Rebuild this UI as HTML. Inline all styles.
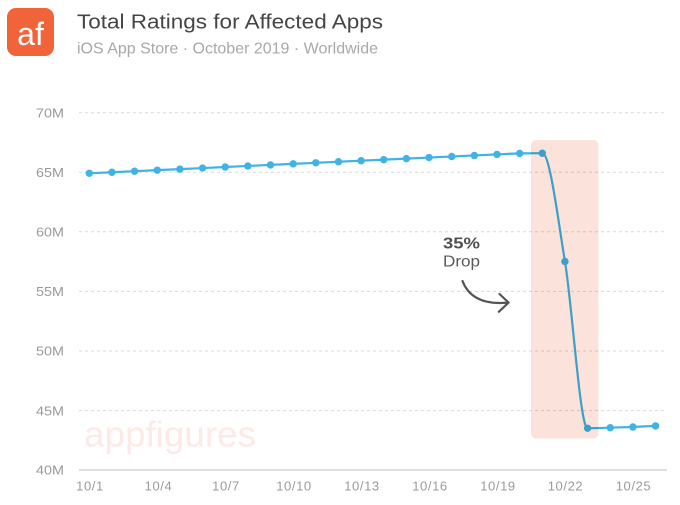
<!DOCTYPE html>
<html>
<head>
<meta charset="utf-8">
<style>
  html, body { margin: 0; padding: 0; background: #ffffff; }
  body { width: 680px; height: 505px; overflow: hidden; }
  svg { display: block; font-family: "Liberation Sans", "DejaVu Sans", sans-serif; }
</style>
</head>
<body>
<svg width="680" height="505" viewBox="0 0 680 505" xmlns="http://www.w3.org/2000/svg">
  <rect x="0" y="0" width="680" height="505" fill="#ffffff"/>

  <!-- Logo -->
  <rect x="7" y="8" width="47" height="48" rx="9" ry="9" fill="#f1643a"/>
  <text x="30.5" y="45" text-anchor="middle" font-size="32" fill="#ffffff">af</text>

  <!-- Titles -->
  <text x="77" y="28.3" font-size="20" fill="#454545" textLength="306" lengthAdjust="spacingAndGlyphs">Total Ratings for Affected Apps</text>
  <text x="77" y="53.3" font-size="16" fill="#a8a8a8" textLength="301" lengthAdjust="spacingAndGlyphs">iOS App Store · October 2019 · Worldwide</text>

  <!-- Watermark -->
  <text x="84" y="446.7" font-size="36" fill="#fde9e6" textLength="172" lengthAdjust="spacingAndGlyphs">appfigures</text>

  <!-- Gridlines -->
  <g stroke="#d9d9d9" stroke-width="1" stroke-dasharray="3 3" fill="none">
    <line x1="79" y1="112.7" x2="667" y2="112.7"/>
    <line x1="79" y1="172.3" x2="667" y2="172.3"/>
    <line x1="79" y1="231.8" x2="667" y2="231.8"/>
    <line x1="79" y1="291.4" x2="667" y2="291.4"/>
    <line x1="79" y1="351.0" x2="667" y2="351.0"/>
    <line x1="79" y1="410.6" x2="667" y2="410.6"/>
  </g>
  <line x1="79" y1="470" x2="667" y2="470" stroke="#cccccc" stroke-width="1.2"/>

  <!-- Y labels -->
  <g font-size="12.5" fill="#9a9a9a">
    <text x="36" y="117.4" textLength="28" lengthAdjust="spacingAndGlyphs">70M</text>
    <text x="36" y="177.0" textLength="28" lengthAdjust="spacingAndGlyphs">65M</text>
    <text x="36" y="236.5" textLength="28" lengthAdjust="spacingAndGlyphs">60M</text>
    <text x="36" y="296.1" textLength="28" lengthAdjust="spacingAndGlyphs">55M</text>
    <text x="36" y="355.7" textLength="28" lengthAdjust="spacingAndGlyphs">50M</text>
    <text x="36" y="415.3" textLength="28" lengthAdjust="spacingAndGlyphs">45M</text>
    <text x="36" y="474.7" textLength="28" lengthAdjust="spacingAndGlyphs">40M</text>
  </g>

  <!-- X labels -->
  <g font-size="13" fill="#9a9a9a" text-anchor="middle" letter-spacing="0.6">
    <text x="90" y="490.7">10/1</text>
    <text x="158.5" y="490.7">10/4</text>
    <text x="226" y="490.7">10/7</text>
    <text x="294" y="490.7">10/10</text>
    <text x="362" y="490.7">10/13</text>
    <text x="430" y="490.7">10/16</text>
    <text x="498" y="490.7">10/19</text>
    <text x="565.5" y="490.7">10/22</text>
    <text x="633.5" y="490.7">10/25</text>
  </g>

  <!-- Series line -->
  <path fill="none" stroke="#3fb3e6" stroke-width="2.2" stroke-linejoin="round" stroke-linecap="round"
    d="M89.3,173.3 L111.95,172.25 L134.6,171.2 L157.25,170.15 L179.9,169.1 L202.55,168.05 L225.2,167.0 L247.85,165.95 L270.5,164.9 L293.15,163.85 L315.8,162.8 L338.45,161.75 L361.1,160.7 L383.75,159.65 L406.4,158.6 L429.05,157.55 L451.7,156.5 L474.35,155.45 L497.0,154.4 L519.65,153.35 L542.3,153.2 C549.85,153.2 557.4,215.7 564.95,261.5 C572.5,307.3 580.05,428.3 587.6,428.3 L610.25,427.7 L632.9,427.0 L655.55,425.9"/>

  <!-- Markers -->
  <g fill="#3fb3e6">
    <circle cx="89.3" cy="173.3" r="3.7"/>
    <circle cx="111.95" cy="172.25" r="3.7"/>
    <circle cx="134.6" cy="171.2" r="3.7"/>
    <circle cx="157.25" cy="170.15" r="3.7"/>
    <circle cx="179.9" cy="169.1" r="3.7"/>
    <circle cx="202.55" cy="168.05" r="3.7"/>
    <circle cx="225.2" cy="167.0" r="3.7"/>
    <circle cx="247.85" cy="165.95" r="3.7"/>
    <circle cx="270.5" cy="164.9" r="3.7"/>
    <circle cx="293.15" cy="163.85" r="3.7"/>
    <circle cx="315.8" cy="162.8" r="3.7"/>
    <circle cx="338.45" cy="161.75" r="3.7"/>
    <circle cx="361.1" cy="160.7" r="3.7"/>
    <circle cx="383.75" cy="159.65" r="3.7"/>
    <circle cx="406.4" cy="158.6" r="3.7"/>
    <circle cx="429.05" cy="157.55" r="3.7"/>
    <circle cx="451.7" cy="156.5" r="3.7"/>
    <circle cx="474.35" cy="155.45" r="3.7"/>
    <circle cx="497.0" cy="154.4" r="3.7"/>
    <circle cx="519.65" cy="153.35" r="3.7"/>
    <circle cx="542.3" cy="153.2" r="3.7"/>
    <circle cx="564.95" cy="261.5" r="3.7"/>
    <circle cx="587.6" cy="428.3" r="3.7"/>
    <circle cx="610.25" cy="427.7" r="3.7"/>
    <circle cx="632.9" cy="427.0" r="3.7"/>
    <circle cx="655.55" cy="425.9" r="3.7"/>
  </g>

  <!-- Highlight band (multiplied over line) -->
  <rect x="531" y="140" width="67.5" height="298.5" rx="5" ry="5" fill="#fbe3dc" style="mix-blend-mode:multiply"/>

  <!-- Annotation -->
  <text x="443" y="248.3" font-size="15.5" font-weight="bold" fill="#505050" textLength="37" lengthAdjust="spacingAndGlyphs">35%</text>
  <text x="443" y="266.7" font-size="15.5" fill="#5a5a5a" textLength="37" lengthAdjust="spacingAndGlyphs">Drop</text>
  <path d="M462.5,281 Q472,306 508,302.6" fill="none" stroke="#555555" stroke-width="2.2" stroke-linecap="round"/>
  <path d="M499.5,294 L508.6,302.6 L498.8,311.8" fill="none" stroke="#555555" stroke-width="2.2" stroke-linecap="round" stroke-linejoin="round"/>
</svg>
</body>
</html>
